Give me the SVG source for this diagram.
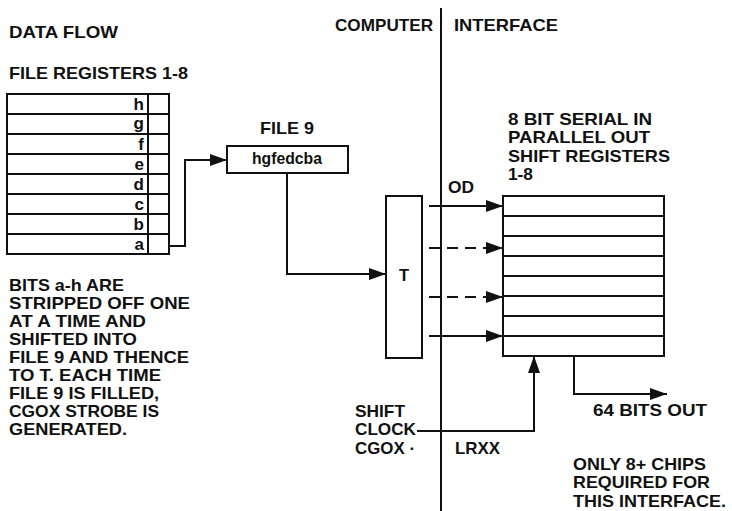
<svg xmlns="http://www.w3.org/2000/svg" width="732" height="511" viewBox="0 0 732 511">
<style>
text{font-family:"Liberation Sans",Arial,sans-serif;font-weight:bold;font-size:16.5px;fill:#111}
.reg{font-size:17px}
.box{fill:#fff;stroke:#111;stroke-width:2}
.ln{fill:none;stroke:#111;stroke-width:2}
.dash{stroke-dasharray:11 7}
</style>
<defs>
<marker id="ah" markerUnits="userSpaceOnUse" markerWidth="18" markerHeight="14" viewBox="0 0 18 14" refX="17" refY="7" orient="auto">
<path d="M0,1 L17,7 L0,13 Z" fill="#111"/>
</marker>
</defs>
<rect width="732" height="511" fill="#fff"/>

<text x="9" y="38" textLength="109" lengthAdjust="spacingAndGlyphs">DATA FLOW</text>
<text x="335" y="31" textLength="98" lengthAdjust="spacingAndGlyphs">COMPUTER</text>
<text x="454" y="31" textLength="104" lengthAdjust="spacingAndGlyphs">INTERFACE</text>
<line class="ln" x1="441" y1="8" x2="441" y2="511"/>

<g id="file-registers">
<text x="9" y="79" textLength="179" lengthAdjust="spacingAndGlyphs">FILE REGISTERS 1-8</text>
<rect class="box" x="7" y="94" width="162" height="160"/>
<line class="ln" x1="148" y1="94" x2="148" y2="254"/>
<path class="ln" d="M7,114H169M7,134H169M7,154H169M7,174H169M7,194H169M7,214H169M7,234H169"/>
<g text-anchor="end" class="reg">
<text class="reg" x="144" y="110">h</text>
<text class="reg" x="144" y="129">g</text>
<text class="reg" x="144" y="150">f</text>
<text class="reg" x="144" y="170">e</text>
<text class="reg" x="144" y="190">d</text>
<text class="reg" x="144" y="210">c</text>
<text class="reg" x="144" y="230">b</text>
<text class="reg" x="144" y="250">a</text>
</g>
</g>

<g id="file9">
<text x="260" y="134" textLength="54" lengthAdjust="spacingAndGlyphs">FILE 9</text>
<rect class="box" x="227" y="146" width="121" height="27"/>
<text x="252" y="164" textLength="70" lengthAdjust="spacingAndGlyphs">hgfedcba</text>
</g>

<g id="t-register">
<rect class="box" x="386" y="196" width="36" height="162"/>
<text x="404" y="281" text-anchor="middle">T</text>
</g>

<g id="shift-registers">
<text x="508" y="125" textLength="144" lengthAdjust="spacingAndGlyphs">8 BIT SERIAL IN</text>
<text x="508" y="143" textLength="142" lengthAdjust="spacingAndGlyphs">PARALLEL OUT</text>
<text x="508" y="162" textLength="162" lengthAdjust="spacingAndGlyphs">SHIFT REGISTERS</text>
<text x="508" y="180" textLength="25" lengthAdjust="spacingAndGlyphs">1-8</text>
<rect class="box" x="503" y="196" width="161" height="160"/>
<path class="ln" d="M503,216H664M503,236H664M503,256H664M503,276H664M503,296H664M503,316H664M503,336H664"/>
</g>

<g id="notes">
<text x="9" y="291" textLength="115" lengthAdjust="spacingAndGlyphs">BITS a-h ARE</text>
<text x="9" y="309" textLength="181" lengthAdjust="spacingAndGlyphs">STRIPPED OFF ONE</text>
<text x="9" y="327" textLength="137" lengthAdjust="spacingAndGlyphs">AT A TIME AND</text>
<text x="9" y="345" textLength="128" lengthAdjust="spacingAndGlyphs">SHIFTED INTO</text>
<text x="9" y="363" textLength="180" lengthAdjust="spacingAndGlyphs">FILE 9 AND THENCE</text>
<text x="9" y="381" textLength="152" lengthAdjust="spacingAndGlyphs">TO T. EACH TIME</text>
<text x="9" y="399" textLength="150" lengthAdjust="spacingAndGlyphs">FILE 9 IS FILLED,</text>
<text x="9" y="417" textLength="150" lengthAdjust="spacingAndGlyphs">CGOX STROBE IS</text>
<text x="9" y="435" textLength="118" lengthAdjust="spacingAndGlyphs">GENERATED.</text>
</g>

<g id="labels">
<text x="448" y="193" textLength="26" lengthAdjust="spacingAndGlyphs">OD</text>
<text x="355" y="417" textLength="50" lengthAdjust="spacingAndGlyphs">SHIFT</text>
<text x="355" y="435" textLength="61" lengthAdjust="spacingAndGlyphs">CLOCK</text>
<text x="355" y="454" textLength="60" lengthAdjust="spacingAndGlyphs">CGOX ·</text>
<text x="455" y="454" textLength="45" lengthAdjust="spacingAndGlyphs">LRXX</text>
<text x="593" y="416" textLength="114" lengthAdjust="spacingAndGlyphs">64 BITS OUT</text>
<text x="573" y="470" textLength="133" lengthAdjust="spacingAndGlyphs">ONLY 8+ CHIPS</text>
<text x="573" y="488" textLength="137" lengthAdjust="spacingAndGlyphs">REQUIRED FOR</text>
<text x="573" y="507" textLength="153" lengthAdjust="spacingAndGlyphs">THIS INTERFACE.</text>
</g>

<g id="connectors">
<polyline class="ln" points="169,246 185,246 185,160 227,160" marker-end="url(#ah)"/>
<polyline class="ln" points="287,173 287,274 386,274" marker-end="url(#ah)"/>
<line class="ln" x1="429" y1="206" x2="503" y2="206" marker-end="url(#ah)"/>
<line class="ln dash" x1="429" y1="248" x2="503" y2="248" marker-end="url(#ah)"/>
<line class="ln dash" x1="429" y1="297" x2="503" y2="297" marker-end="url(#ah)"/>
<line class="ln" x1="429" y1="336" x2="503" y2="336" marker-end="url(#ah)"/>
<polyline class="ln" points="417,431 534,431 534,356" marker-end="url(#ah)"/>
<polyline class="ln" points="574,356 574,394 667,394" marker-end="url(#ah)"/>
</g>
</svg>
